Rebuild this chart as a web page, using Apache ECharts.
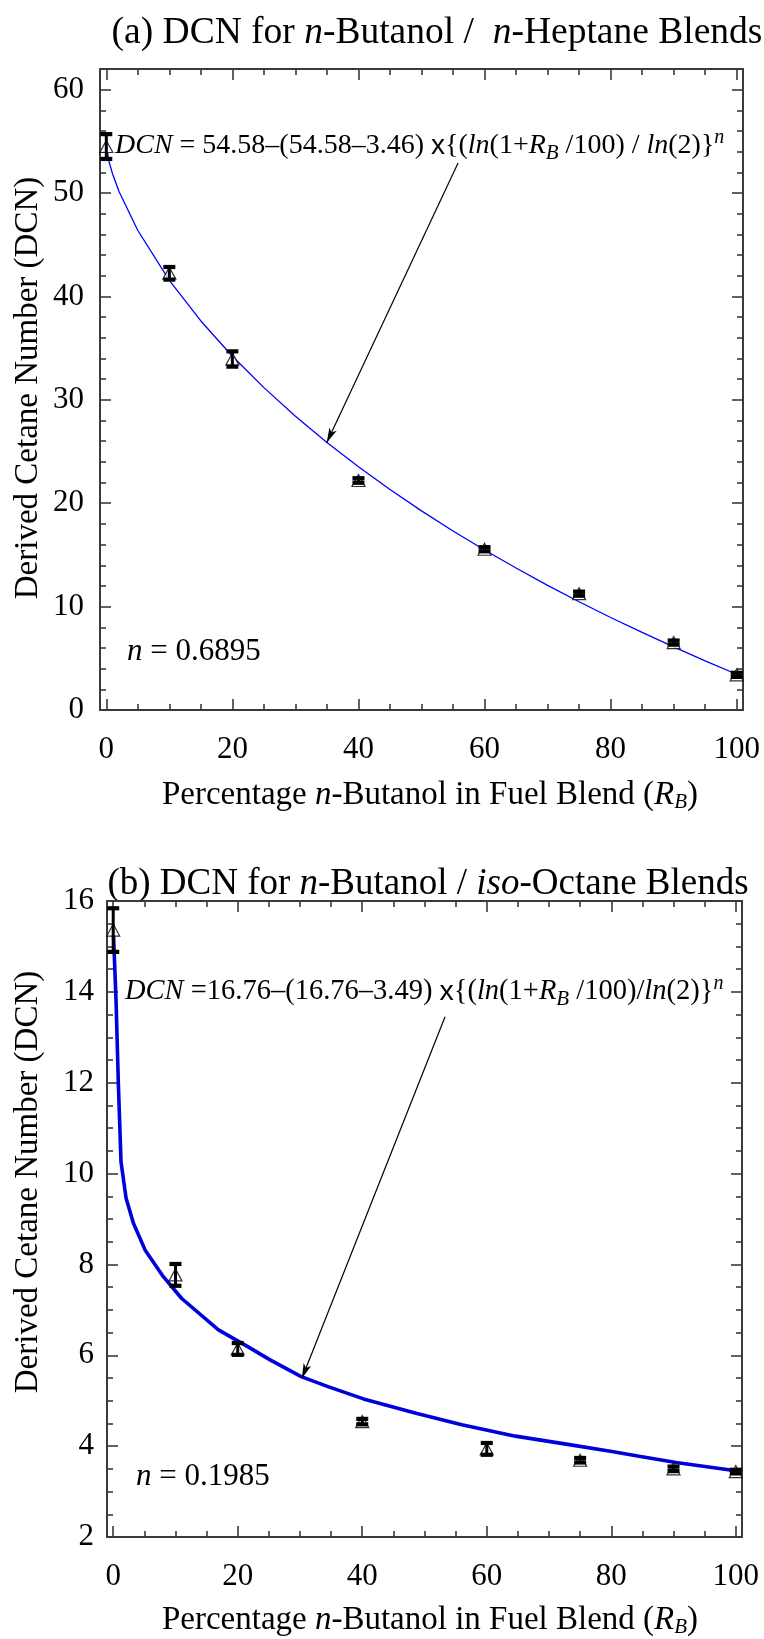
<!DOCTYPE html>
<html><head><meta charset="utf-8">
<script src="https://cdn.jsdelivr.net/npm/echarts@6/dist/echarts.min.js"></script>
<style>html,body{margin:0;padding:0;background:#fff}#c{width:764px;height:1639px}</style>
</head><body><div id="c"></div>
<script>
// ---------- data ----------
const blendPct = [0, 10, 20, 40, 60, 75, 90, 100];
// (a) n-butanol / n-heptane
const dcnHeptane = [54.5, 42.24, 33.95, 22.2, 15.55, 11.25, 6.52, 3.4];
const errHeptane = [1.2, 0.61, 0.74, 0.22, 0.2, 0.2, 0.2, 0.2];
const fitPctA = [0, 0.5, 1, 2, 5, 10, 15, 20, 25, 30, 35, 40, 45, 50, 55, 60, 65, 70, 75, 80, 85, 90, 95, 100];
const fitHeptane = [54.58, 52.88, 51.84, 50.18, 46.38, 41.56, 37.63, 34.22, 31.18, 28.42, 25.88, 23.52, 21.32, 19.26, 17.31, 15.47, 13.73, 12.06, 10.47, 8.95, 7.50, 6.10, 4.76, 3.46];
// (b) n-butanol / iso-octane
const dcnIsoOctane = [15.36, 7.77, 6.14, 4.54, 3.94, 3.69, 3.50, 3.44];
const errIsoOctane = [0.48, 0.24, 0.13, 0.06, 0.13, 0.05, 0.05, 0.04];
const fitPctB = [0, 0.45, 0.82, 1.25, 2.06, 3.23, 5.11, 8.05, 11.0, 16.9, 21.6, 25.2, 30.2, 34.5, 40.2, 48.8, 56.0, 64.6, 72.5, 80.1, 84.7, 90.4, 100];
const fitIsoOctane = [15.40, 13.82, 11.99, 10.26, 9.46, 8.91, 8.32, 7.73, 7.25, 6.56, 6.19, 5.90, 5.53, 5.31, 5.04, 4.72, 4.47, 4.22, 4.05, 3.88, 3.77, 3.64, 3.46];
// arrows (data coordinates: start, tip)
const arrowA = [[55.8, 52.9], [34.96, 25.85]];
const arrowB = [[53.3, 13.45], [30.3, 5.49]];
// ticks
const xMajor = [0, 20, 40, 60, 80, 100];
const xMinor = [5, 10, 15, 25, 30, 35, 45, 50, 55, 65, 70, 75, 85, 90, 95];
const yMajorA = [0, 10, 20, 30, 40, 50, 60];
const yMinorA = [2, 4, 6, 8, 12, 14, 16, 18, 22, 24, 26, 28, 32, 34, 36, 38, 42, 44, 46, 48, 52, 54, 56, 58];
const yMajorB = [2, 4, 6, 8, 10, 12, 14, 16];
const yMinorB = [2.5, 3, 3.5, 4.5, 5, 5.5, 6.5, 7, 7.5, 8.5, 9, 9.5, 10.5, 11, 11.5, 12.5, 13, 13.5, 14.5, 15, 15.5];

// ---------- styling ----------
const SERIF = '"Liberation Serif", "Times New Roman", serif';
const AX = '#3a3a3a';
const TICKFS = 31;

function axisPair(kind, g, pos, min, max, major, minor, labels, margin) {
  const base = {
    gridIndex: g, type: 'value', min: min, max: max, position: pos,
    splitLine: { show: false }, animation: false
  };
  const maj = Object.assign({}, base, {
    axisLine: { show: true, onZero: false, lineStyle: { color: AX, width: 2 } },
    axisTick: { show: true, inside: true, length: 11, customValues: major, lineStyle: { color: AX, width: 1.6 } },
    axisLabel: labels ? { show: true, customValues: major, margin: margin, fontSize: TICKFS, fontFamily: SERIF, color: '#000' } : { show: false }
  });
  const mnr = Object.assign({}, base, {
    axisLine: { show: false, onZero: false },
    axisTick: { show: true, inside: true, length: 6, customValues: minor, lineStyle: { color: AX, width: 1.6 } },
    axisLabel: { show: false }
  });
  return [maj, mnr];
}

const xAxes = [].concat(
  axisPair('x', 0, 'bottom', -1, 101, xMajor, xMinor, true, 24),
  axisPair('x', 0, 'top', -1, 101, xMajor, xMinor, false),
  axisPair('x', 1, 'bottom', -1, 101, xMajor, xMinor, true, 24),
  axisPair('x', 1, 'top', -1, 101, xMajor, xMinor, false)
);
const yAxes = [].concat(
  axisPair('y', 0, 'left', 0, 62, yMajorA, yMinorA, true, 16),
  axisPair('y', 0, 'right', 0, 62, yMajorA, yMinorA, false),
  axisPair('y', 1, 'left', 2, 16, yMajorB, yMinorB, true, 13),
  axisPair('y', 1, 'right', 2, 16, yMajorB, yMinorB, false)
);

function errRender(params, api) {
  const x = api.value(0), y = api.value(1), e = api.value(2);
  const hi = api.coord([x, y + e]), lo = api.coord([x, y - e]);
  const capW = 12, capH = 4.2, stemW = 3;
  return {
    type: 'group', children: [
      { type: 'rect', shape: { x: hi[0] - stemW / 2, y: hi[1], width: stemW, height: lo[1] - hi[1] }, style: { fill: '#000' } },
      { type: 'rect', shape: { x: hi[0] - capW / 2, y: hi[1] - capH / 2, width: capW, height: capH }, style: { fill: '#000' } },
      { type: 'rect', shape: { x: lo[0] - capW / 2, y: lo[1] - capH / 2, width: capW, height: capH }, style: { fill: '#000' } }
    ]
  };
}

function panelSeries(xi, yi, fitX, fitY, vals, errs, arrow, lineW, lineColor) {
  return [
    {
      type: 'line', xAxisIndex: xi, yAxisIndex: yi, showSymbol: false, smooth: false,
      data: fitX.map((x, i) => [x, fitY[i]]),
      lineStyle: { color: lineColor, width: lineW }, z: 2, animation: false,
      markLine: {
        silent: true, symbol: ['none', 'arrow'], symbolSize: [6, 15], animation: false,
        lineStyle: { color: '#000', width: 1.2, type: 'solid' }, label: { show: false },
        emphasis: { disabled: true },
        data: [[{ coord: arrow[0] }, { coord: arrow[1] }]]
      }
    },
    {
      type: 'scatter', xAxisIndex: xi, yAxisIndex: yi, symbol: 'triangle', symbolSize: [13, 12],
      itemStyle: { color: '#fff', borderColor: '#000', borderWidth: 1.2 }, z: 3, animation: false,
      data: blendPct.map((x, i) => [x, vals[i]])
    },
    {
      type: 'custom', xAxisIndex: xi, yAxisIndex: yi, renderItem: errRender, z: 4, animation: false,
      data: blendPct.map((x, i) => [x, vals[i], errs[i]])
    }
  ];
}

const rich = {
  i: { fontStyle: 'italic', fontFamily: SERIF, fill: '#000' },
  sub: { fontStyle: 'italic', fontFamily: SERIF, fontSize: 21, padding: [15, 0, 0, 0], fill: '#000' },
  sup: { fontStyle: 'italic', fontFamily: SERIF, fontSize: 20, padding: [0, 0, 16, 0], fill: '#000' },
  s: { fontFamily: '"Liberation Sans", Arial, sans-serif', fill: '#000' }
};
function txt(text, x, y, size, align, rot) {
  const r = {};
  for (const k in rich) { r[k] = Object.assign({}, rich[k]); if (!r[k].fontSize) r[k].fontSize = size; }
  return {
    type: 'text', x: x, y: y, rotation: rot || 0, silent: true,
    style: { text: text, fontSize: size, fontFamily: SERIF, fill: '#000', align: align || 'center', verticalAlign: 'middle', rich: r }
  };
}

const option = {
  animation: false,
  backgroundColor: '#fff',
  grid: [
    { left: 100, top: 69, width: 643, height: 641 },
    { left: 107, top: 901, width: 635, height: 636 }
  ],
  xAxis: xAxes,
  yAxis: yAxes,
  series: [].concat(
    panelSeries(0, 0, fitPctA, fitHeptane, dcnHeptane, errHeptane, arrowA, 1.3, '#0000ff'),
    panelSeries(4, 4, fitPctB, fitIsoOctane, dcnIsoOctane, errIsoOctane, arrowB, 3.6, '#0000dd')
  ),
  graphic: [
    txt('(a) DCN for {i|n}-Butanol /  {i|n}-Heptane Blends', 437, 33, 37.5),
    txt('(b) DCN for {i|n}-Butanol / {i|iso}-Octane Blends', 428, 884, 37),
    txt('Percentage {i|n}-Butanol in Fuel Blend ({i|R}{sub|B})', 430, 795, 33),
    txt('Percentage {i|n}-Butanol in Fuel Blend ({i|R}{sub|B})', 430, 1620, 33),
    txt('Derived Cetane Number (DCN)', 28, 388, 33, 'center', Math.PI / 2),
    txt('Derived Cetane Number (DCN)', 28, 1182, 33, 'center', Math.PI / 2),
    txt('{i|DCN} = 54.58\u2013(54.58\u20133.46) {s|x}{({i|ln}(1+{i|R}{sub|B} /100) / {i|ln}(2)}{sup|n}', 115, 146, 28, 'left'),
    txt('{i|DCN} =16.76\u2013(16.76\u20133.49) {s|x}{({i|ln}(1+{i|R}{sub|B} /100)/{i|ln}(2)}{sup|n}', 125, 992, 28.5, 'left'),
    txt('{i|n} = 0.6895', 127, 652, 31, 'left'),
    txt('{i|n} = 0.1985', 136, 1477, 31, 'left')
  ]
};

const chart = echarts.init(document.getElementById('c'), null, { renderer: 'canvas' });
chart.setOption(option);
</script>
</body></html>
